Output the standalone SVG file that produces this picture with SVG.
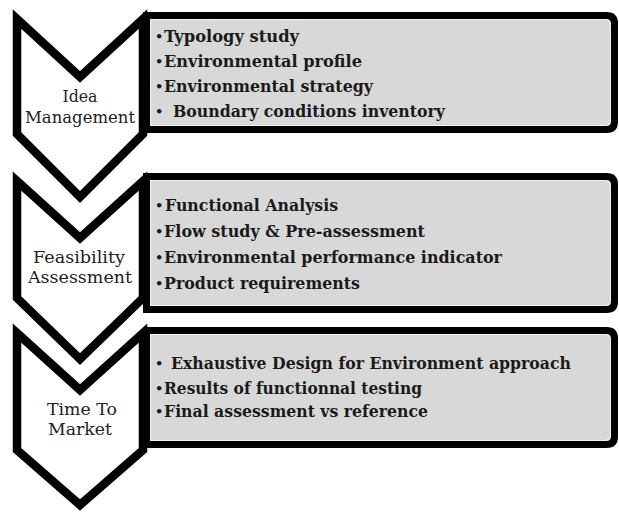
<svg xmlns="http://www.w3.org/2000/svg" width="619" height="512" viewBox="0 0 619 512">
<style>
.chev{fill:#ffffff;stroke:#000000;stroke-width:8.5;stroke-linejoin:miter;stroke-miterlimit:4}
.box{fill:#d8d8d8;stroke:#000000;stroke-width:7}
.inner{fill:none;stroke:#f2f2f2;stroke-width:1}
.lbl{font-family:"DejaVu Serif","Liberation Serif",serif;font-size:17px;fill:#222222;text-anchor:middle}
.item{font-family:"DejaVu Serif","Liberation Serif",serif;font-size:17px;font-weight:bold;fill:#1a1a1a}
.bul{font-family:"DejaVu Sans","Liberation Sans",sans-serif;font-size:13px;font-weight:bold;fill:#1a1a1a}
</style>
<rect width="619" height="512" fill="#ffffff"/>
<g id="stage1">
<polygon class="chev" points="17,19 80,77 143,19 143,134 80,197 17,134"/>
<text class="lbl" x="80" y="102" textLength="35" lengthAdjust="spacingAndGlyphs">Idea</text>
<text class="lbl" x="80" y="123" textLength="110" lengthAdjust="spacingAndGlyphs">Management</text>
</g>
<g id="stage2">
<polygon class="chev" points="17,181 80,238 143,181 143,298 80,359 17,298"/>
<text class="lbl" x="79" y="263" textLength="92" lengthAdjust="spacingAndGlyphs">Feasibility</text>
<text class="lbl" x="80" y="283" textLength="104" lengthAdjust="spacingAndGlyphs">Assessment</text>
</g>
<g id="stage3">
<polygon class="chev" points="17,333 80,390 143,333 143,450 80,505 17,450"/>
<text class="lbl" x="82" y="415" textLength="70" lengthAdjust="spacingAndGlyphs">Time To</text>
<text class="lbl" x="80" y="435" textLength="64" lengthAdjust="spacingAndGlyphs">Market</text>
</g>
<g id="box1">
<path class="box" d="M146.5,15.5 H606.5 Q614.5,15.5 614.5,23.5 V121.5 Q614.5,129.5 606.5,129.5 H146.5 Z"/>
<path class="inner" d="M150.5,19.5 H604 Q610.5,19.5 610.5,26 V119 Q610.5,125.5 604,125.5 H150.5 Z"/>
<text class="bul" x="155" y="41">•</text><text class="item" x="164" y="42" textLength="135" lengthAdjust="spacingAndGlyphs">Typology study</text>
<text class="bul" x="155" y="66">•</text><text class="item" x="164" y="67" textLength="198" lengthAdjust="spacingAndGlyphs">Environmental profile</text>
<text class="bul" x="155" y="91">•</text><text class="item" x="164" y="92" textLength="209" lengthAdjust="spacingAndGlyphs">Environmental strategy</text>
<text class="bul" x="155" y="116">•</text><text class="item" x="173" y="117" textLength="272" lengthAdjust="spacingAndGlyphs">Boundary conditions inventory</text>
</g>
<g id="box2">
<path class="box" d="M146.5,176.5 H606.5 Q614.5,176.5 614.5,184.5 V301.5 Q614.5,309.5 606.5,309.5 H146.5 Z"/>
<path class="inner" d="M150.5,180.5 H604 Q610.5,180.5 610.5,187 V299 Q610.5,305.5 604,305.5 H150.5 Z"/>
<text class="bul" x="155" y="210">•</text><text class="item" x="165" y="211" textLength="173" lengthAdjust="spacingAndGlyphs">Functional Analysis</text>
<text class="bul" x="155" y="236">•</text><text class="item" x="164" y="237" textLength="261" lengthAdjust="spacingAndGlyphs">Flow study &amp; Pre-assessment</text>
<text class="bul" x="155" y="262">•</text><text class="item" x="164" y="263" textLength="338" lengthAdjust="spacingAndGlyphs">Environmental performance indicator</text>
<text class="bul" x="155" y="288">•</text><text class="item" x="164" y="289" textLength="196" lengthAdjust="spacingAndGlyphs">Product requirements</text>
</g>
<g id="box3">
<path class="box" d="M146.5,330.5 H606.5 Q614.5,330.5 614.5,338.5 V436.5 Q614.5,444.5 606.5,444.5 H146.5 Z"/>
<path class="inner" d="M150.5,334.5 H604 Q610.5,334.5 610.5,341 V434 Q610.5,440.5 604,440.5 H150.5 Z"/>
<text class="bul" x="155" y="368">•</text><text class="item" x="171" y="369" textLength="400" lengthAdjust="spacingAndGlyphs">Exhaustive Design for Environment approach</text>
<text class="bul" x="155" y="393">•</text><text class="item" x="164" y="394" textLength="258" lengthAdjust="spacingAndGlyphs">Results of functionnal testing</text>
<text class="bul" x="155" y="416">•</text><text class="item" x="164" y="417" textLength="264" lengthAdjust="spacingAndGlyphs">Final assessment vs reference</text>
</g>
<g id="connectors"></g>
</svg>
